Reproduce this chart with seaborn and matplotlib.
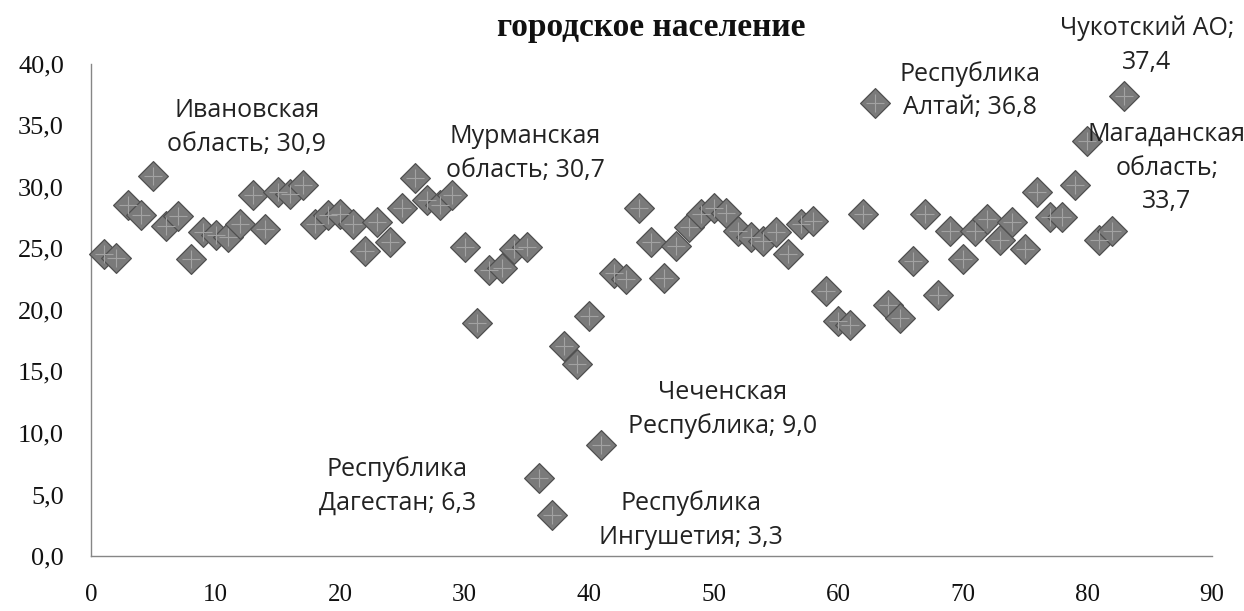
import matplotlib
matplotlib.use("Agg")
import matplotlib.pyplot as plt
import seaborn as sns
import pandas as pd

# region number (1..83) and share of urban population, %
region_no = list(range(1, 84))
urban = [24.5, 24.2, 28.5, 27.7, 30.9, 26.8, 27.6, 24.1, 26.3, 26.1,
         25.9, 27.0, 29.3, 26.6, 29.6, 29.4, 30.1, 27.0, 27.7, 27.8,
         27.0, 24.8, 27.1, 25.5, 28.3, 30.7, 28.9, 28.5, 29.3, 25.1,
         18.9, 23.2, 23.4, 24.9, 25.1, 6.3, 3.3, 17.1, 15.6, 19.5,
         9.0, 23.0, 22.5, 28.3, 25.5, 22.6, 25.2, 26.7, 27.8, 28.3,
         27.9, 26.4, 25.9, 25.6, 26.3, 24.5, 27.0, 27.2, 21.5, 19.1,
         18.8, 27.8, 36.8, 20.4, 19.3, 24.0, 27.8, 21.2, 26.4, 24.1,
         26.4, 27.4, 25.7, 27.1, 24.9, 29.6, 27.5, 27.5, 30.1, 33.7,
         25.7, 26.4, 37.4]

# labelled regions: region number -> label text
labels = {
    5: "Ивановская\nобласть; 30,9",
    26: "Мурманская\nобласть; 30,7",
    63: "Республика\nАлтай; 36,8",
    83: "Чукотский АО;\n37,4",
    80: "Магаданская\nобласть;\n33,7",
    41: "Чеченская\nРеспублика; 9,0",
    36: "Республика\nДагестан; 6,3",
    37: "Республика\nИнгушетия; 3,3",
}

df = pd.DataFrame({"region": region_no, "urban": urban})

sns.set_style("white")
plt.rcParams['font.family'] = ['Liberation Serif', 'DejaVu Serif']

fig = plt.figure(figsize=(12.44, 6.11), dpi=100)
ax = fig.add_axes([0.0732, 0.0900, 0.9007, 0.8059])

sns.scatterplot(data=df, x="region", y="urban", ax=ax, marker="D", s=230,
                color="#7a7a7a", edgecolor="#505050", linewidth=0.9,
                zorder=3, clip_on=False)
# facet ridges on the diamonds
ax.scatter(df["region"], df["urban"], marker="+", s=150, color="#a2a2a2",
           linewidths=0.8, zorder=4, clip_on=False)

ax.set_xlim(0, 90)
ax.set_ylim(0, 40)
ax.set_xticks(range(0, 91, 10))
ax.set_yticks(range(0, 41, 5))
ax.set_yticklabels([f"{v},0" for v in range(0, 41, 5)])
ax.set_xlabel("")
ax.set_ylabel("")

for s in ["top", "right"]:
    ax.spines[s].set_visible(False)
for s in ["left", "bottom"]:
    ax.spines[s].set_color("#868686")
    ax.spines[s].set_linewidth(1.0)

ax.tick_params(axis="both", direction="out", length=6.5, width=1.0,
               color="#868686", labelsize=19, labelcolor="#111111")
ax.tick_params(axis="x", pad=14, labelsize=18)
ax.tick_params(axis="y", pad=13)

ax.set_title("городское население", fontsize=24, fontweight="bold",
             pad=20, color="#111111")

# text positions for the labels (data coords)
label_xy = {5: (12.5, 34.8), 26: (34.9, 32.7), 63: (70.6, 37.8),
            83: (84.8, 41.5), 80: (86.4, 31.5), 41: (50.7, 11.9),
            36: (24.6, 5.7), 37: (48.2, 2.9)}

for reg, txt in labels.items():
    tx, ty = label_xy[reg]
    ax.text(tx, ty, txt, ha="center", va="center", fontsize=18,
            family="Open Sans", color="#222222", linespacing=1.45,
            clip_on=False, zorder=5)

fig.savefig("out.png", dpi=100)
